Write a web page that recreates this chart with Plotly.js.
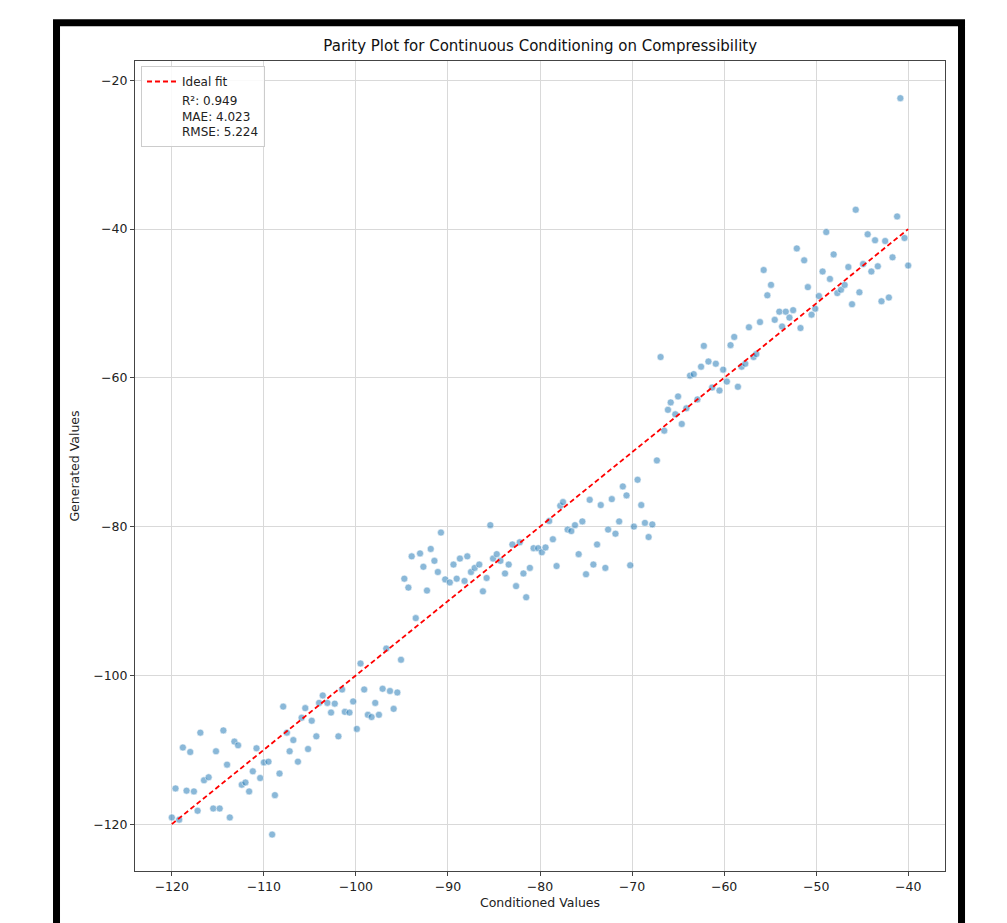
<!DOCTYPE html>
<html>
<head>
<meta charset="utf-8">
<script src="https://cdn.plot.ly/plotly-3.0.1.min.js"></script>
<style>html,body{margin:0;padding:0;background:#fff;}#chart{width:1007px;height:923px;}</style>
</head>
<body>
<div id="chart"></div>
<script>
// Conditioned (x) and generated (y) values
const conditioned = [
-120.0,-119.6,-119.2,-118.8,-118.4,-118.0,-117.6,-117.2,-116.9,-116.5,
-116.0,-115.5,-115.2,-114.8,-114.4,-114.0,-113.7,-113.2,-112.8,-112.4,
-112.0,-111.6,-111.2,-110.8,-110.4,-110.0,-109.5,-109.1,-108.8,-108.3,
-107.9,-107.5,-107.2,-106.8,-106.3,-105.9,-105.5,-105.2,-104.8,-104.3,
-104.0,-103.6,-103.1,-102.7,-102.3,-101.9,-101.5,-101.2,-100.7,-100.3,
-99.9,-99.5,-99.1,-98.7,-98.3,-97.9,-97.5,-97.1,-96.7,-96.3,
-95.9,-95.5,-95.1,-94.74,-94.3,-93.94,-93.5,-93.03,-92.67,-92.28,
-91.87,-91.47,-91.1,-90.76,-90.3,-89.8,-89.4,-89.05,-88.7,-88.2,
-87.9,-87.5,-87.1,-86.6,-86.2,-85.8,-85.4,-85.1,-84.7,-84.3,
-83.8,-83.4,-83.0,-82.6,-82.2,-81.8,-81.5,-81.1,-80.7,-80.2,
-79.8,-79.4,-79.0,-78.6,-78.2,-77.8,-77.5,-77.0,-76.6,-76.2,
-75.8,-75.4,-75.0,-74.6,-74.2,-73.8,-73.4,-72.9,-72.6,-72.2,
-71.8,-71.4,-71.0,-70.6,-70.2,-69.8,-69.4,-69.0,-68.6,-68.2,
-67.8,-67.3,-66.9,-66.5,-66.1,-65.8,-65.3,-65.0,-64.6,-64.1,
-63.7,-63.3,-62.9,-62.5,-62.2,-61.7,-61.3,-60.9,-60.5,-60.1,
-59.7,-59.3,-58.9,-58.5,-58.1,-57.7,-57.3,-56.8,-56.5,-56.1,
-55.7,-55.3,-54.9,-54.5,-54.0,-53.7,-53.3,-52.9,-52.5,-52.1,
-51.7,-51.3,-50.9,-50.5,-50.1,-49.7,-49.3,-48.9,-48.5,-48.1,
-47.7,-47.3,-46.9,-46.5,-46.1,-45.7,-45.3,-44.9,-44.4,-44.0,
-43.6,-43.3,-42.9,-42.5,-42.1,-41.7,-41.2,-40.85,-40.4,-40.0
];
const generated = [
-119.1,-115.2,-119.4,-109.7,-115.5,-110.3,-115.6,-118.2,-107.7,-114.1,
-113.7,-117.9,-110.2,-117.9,-107.4,-112.0,-119.1,-108.9,-109.4,-114.7,
-114.4,-115.6,-112.9,-109.8,-113.8,-111.7,-111.6,-121.4,-116.1,-113.2,
-104.2,-107.7,-110.2,-108.7,-111.6,-105.7,-104.4,-109.9,-106.1,-108.2,
-103.7,-102.7,-103.7,-105.0,-103.8,-108.2,-101.9,-104.9,-105.0,-103.5,
-107.2,-98.4,-101.9,-105.3,-105.6,-103.7,-105.3,-101.8,-96.4,-102.1,
-104.5,-102.3,-97.9,-87.0,-88.2,-84.0,-92.3,-83.6,-85.4,-88.6,
-83.0,-84.6,-86.1,-80.8,-87.1,-87.5,-85.1,-87.0,-84.3,-87.3,
-84.0,-86.1,-85.55,-85.1,-88.7,-86.9,-79.8,-84.3,-83.7,-84.6,
-86.3,-85.1,-82.4,-88.0,-82.1,-86.3,-89.5,-85.55,-82.9,-82.9,
-83.45,-82.8,-79.25,-81.7,-85.3,-77.2,-76.7,-80.4,-80.6,-79.8,
-83.7,-79.3,-86.4,-76.4,-85.1,-82.4,-77.1,-85.55,-80.4,-76.3,
-80.95,-79.3,-74.6,-75.8,-85.2,-80.0,-73.7,-77.1,-79.5,-81.4,
-79.7,-71.1,-57.2,-67.1,-64.3,-63.3,-64.9,-62.5,-66.2,-64.1,
-59.7,-59.5,-62.9,-58.5,-55.7,-57.8,-61.3,-58.1,-61.7,-58.9,
-60.5,-55.6,-54.5,-61.2,-58.5,-58.1,-53.2,-57.2,-56.8,-52.5,
-45.5,-48.9,-47.5,-52.2,-51.1,-53.1,-51.1,-51.9,-50.9,-42.6,
-53.3,-44.2,-47.8,-51.5,-50.7,-49.0,-45.7,-40.4,-46.7,-43.4,
-48.6,-48.15,-47.5,-45.1,-50.1,-37.4,-48.5,-44.7,-40.7,-45.7,
-41.5,-45.0,-49.7,-41.6,-49.2,-43.8,-38.3,-22.4,-41.2,-44.9
];
const idealX = [-120, -40];
const idealY = [-120, -40];
const statsLabel = 'R²: 0.949<br>MAE: 4.023<br>RMSE: 5.224';
const xTickVals = [-120,-110,-100,-90,-80,-70,-60,-50,-40];
const xTickText = ['−120','−110','−100','−90','−80','−70','−60','−50','−40'];
const yTickVals = [-120,-100,-80,-60,-40,-20];
const yTickText = ['−120','−100','−80','−60','−40','−20'];

const FONT = 'DejaVu Sans, sans-serif';
const traces = [
  {
    x: conditioned, y: generated, type: 'scatter', mode: 'markers',
    marker: {color: 'rgba(31,119,180,0.52)', size: 7, line: {color: 'rgba(255,255,255,0.9)', width: 0.6}},
    showlegend: false, hoverinfo: 'x+y'
  },
  {
    x: idealX, y: idealY, type: 'scatter', mode: 'lines', name: 'Ideal fit',
    line: {color: '#ff0000', width: 1.8, dash: '5px,3px'}
  },
  {
    x: [null], y: [null], type: 'scatter', mode: 'lines', name: statsLabel,
    line: {color: 'rgba(0,0,0,0)', width: 0}
  }
];

const axisCommon = {
  showgrid: true, gridcolor: '#d9d9d9', gridwidth: 1,
  zeroline: false, showline: true, mirror: true, linecolor: '#444', linewidth: 1,
  ticks: 'outside', ticklen: 4, tickcolor: '#444',
  tickfont: {family: FONT, size: 12.5, color: '#222'}
};

const layout = {
  width: 1007, height: 923,
  paper_bgcolor: '#fff', plot_bgcolor: '#fff',
  margin: {l: 135, r: 62, t: 61, b: 52},
  title: {text: 'Parity Plot for Continuous Conditioning on Compressibility',
          font: {family: FONT, size: 15, color: '#111'}, x: 0.5365, xanchor: 'center', y: 0.95, yanchor: 'middle'},
  xaxis: Object.assign({}, axisCommon, {
    range: [-124, -36], tickmode: 'array', tickvals: xTickVals, ticktext: xTickText,
    title: {text: 'Conditioned Values', font: {family: FONT, size: 12.5, color: '#222'}, standoff: 5}
  }),
  yaxis: Object.assign({}, axisCommon, {
    range: [-126.3, -17.4], tickmode: 'array', tickvals: yTickVals, ticktext: yTickText,
    title: {text: 'Generated Values', font: {family: FONT, size: 12.5, color: '#222'}, standoff: 10}
  }),
  legend: {
    x: 0.0074, y: 0.9938, xanchor: 'left', yanchor: 'top',
    bgcolor: 'rgba(255,255,255,0.85)', bordercolor: '#cccccc', borderwidth: 1,
    font: {family: FONT, size: 12, color: '#222'}, itemwidth: 30, tracegroupgap: 0
  },
  shapes: [
    {type: 'rect', xref: 'paper', yref: 'paper', x0: -0.0969, x1: 1.0204, y0: -0.2, y1: 1.0473,
     line: {color: '#000', width: 7}, fillcolor: 'rgba(0,0,0,0)', layer: 'below'}
  ]
};

Plotly.newPlot('chart', traces, layout, {displayModeBar: false, staticPlot: true});
</script>
</body>
</html>
